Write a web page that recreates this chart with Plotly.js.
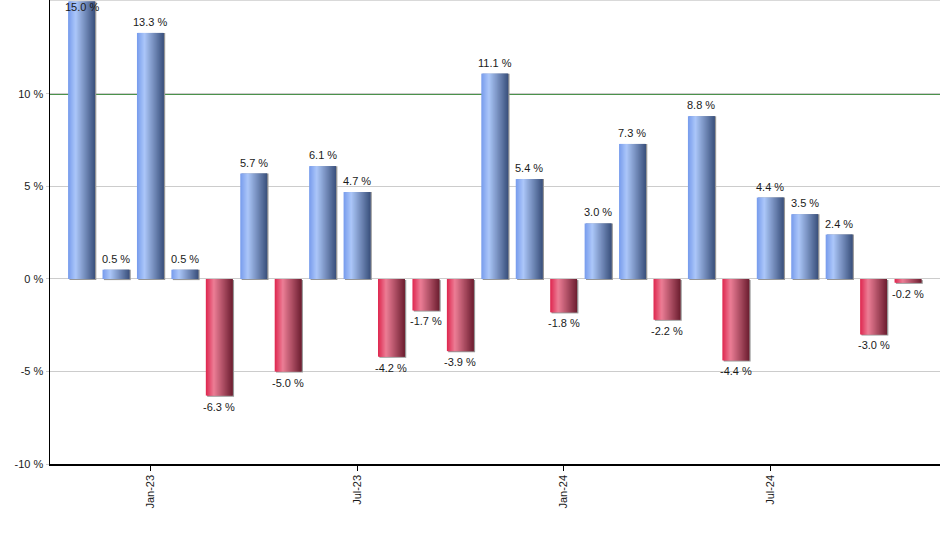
<!DOCTYPE html>
<html>
<head>
<meta charset="utf-8">
<script src="https://cdn.plot.ly/plotly-3.0.1.min.js"></script>
<style>
html,body{margin:0;padding:0;background:#fff;}
#chart{width:940px;height:550px;}
</style>
</head>
<body>
<div id="chart"></div>
<script>
// ---- data ----
const months = ["Nov-22","Dec-22","Jan-23","Feb-23","Mar-23","Apr-23","May-23","Jun-23","Jul-23","Aug-23","Sep-23","Oct-23",
                "Nov-23","Dec-23","Jan-24","Feb-24","Mar-24","Apr-24","May-24","Jun-24","Jul-24","Aug-24","Sep-24","Oct-24","Nov-24"];
const returns = [15.0, 0.5, 13.3, 0.5, -6.3, 5.7, -5.0, 6.1, 4.7, -4.2, -1.7, -3.9,
                 11.1, 5.4, -1.8, 3.0, 7.3, -2.2, 8.8, -4.4, 4.4, 3.5, 2.4, -3.0, -0.2];
const tickMonths = ["Jan-23","Jul-23","Jan-24","Jul-24"];
const yTicks = [-10, -5, 0, 5, 10];
const yTickText = ["-10 %", "-5 %", "0 %", "5 %", "10 %"];

// ---- styling helpers ----
const W = 0.78;        // bar width (category units)
const N = 26;          // gradient slices
const blueStops = [[0,[118,155,236]],[0.28,[172,199,249]],[1,[58,80,124]]];
const redStops  = [[0,[222,38,78]],[0.30,[236,126,150]],[1,[108,30,48]]];
function interp(stops,t){
  for(let i=0;i<stops.length-1;i++){
    const [t0,c0]=stops[i],[t1,c1]=stops[i+1];
    if(t>=t0 && t<=t1){
      const f=(t-t0)/(t1-t0);
      return 'rgb('+c0.map((v,j)=>Math.round(v+(c1[j]-v)*f)).join(',')+')';
    }
  }
  return 'rgb('+stops[stops.length-1][1].join(',')+')';
}

const FONT = '"Liberation Sans", Arial, sans-serif';
const traces = [];
// shadow
traces.push({
  type:'bar', x:months, y:returns.map(v=> v>=0 ? v+0.06 : v), base:returns.map(()=>-0.06),
  width:W, offset:-W/2+0.04,
  marker:{color:'rgb(150,150,150)', line:{width:0}}, hoverinfo:'skip', showlegend:false
});
for(let k=0;k<N;k++){
  const t=(k+0.5)/N;
  traces.push({
    type:'bar', x:months, y:returns, base:0,
    width: k<N-1 ? W/N+0.03 : W/N, offset:-W/2+k*W/N,
    marker:{color:returns.map(v=> v>=0 ? interp(blueStops,t) : interp(redStops,t)), line:{width:0}},
    hoverinfo:'skip', showlegend:false
  });
}

const annotations = months.map((m,i)=>{
  const v = returns[i];
  const inside = v >= 14.5;
  const up = v >= 0 && !inside;
  return {
    x:m, y:v, xref:'x', yref:'y', text:v.toFixed(1)+' %', showarrow:false,
    yanchor: up ? 'bottom' : 'top', yshift: up ? 3 : (inside ? 2 : -3),
    font:{family:FONT, size:11, color:'#1a1a1a'}
  };
});

const layout = {
  width:940, height:550,
  margin:{l:50, r:0, t:0, b:86},
  paper_bgcolor:'#fff', plot_bgcolor:'#fff',
  barmode:'overlay',
  font:{family:FONT, size:11, color:'#1a1a1a'},
  annotations: annotations,
  xaxis:{
    type:'category', range:[-0.915, 24.93],
    tickmode:'array', tickvals:tickMonths, ticktext:tickMonths,
    tickangle:-90, ticks:'outside', ticklen:5, tickcolor:'#000',
    showline:true, linecolor:'#000', linewidth:1.5,
    showgrid:false, zeroline:false,
    tickfont:{size:11, color:'#1a1a1a'}
  },
  yaxis:{
    range:[-10, 15.08],
    tickmode:'array', tickvals:yTicks, ticktext:yTickText,
    showline:true, linecolor:'#000', linewidth:1.5,
    showgrid:true, gridcolor:'#cccccc', gridwidth:1,
    zeroline:true, zerolinecolor:'#cccccc', zerolinewidth:1,
    ticks:'outside', ticklen:3, tickcolor:'#cccccc',
    tickfont:{size:11, color:'#1a1a1a'}
  },
  shapes:[
    {type:'line', xref:'paper', yref:'y', x0:0, x1:1, y0:10, y1:10, line:{color:'#0f6e0f', width:1.3}, layer:'below'},
    {type:'line', xref:'paper', yref:'paper', x0:0, x1:1, y0:1, y1:1, line:{color:'#cccccc', width:1.5}, layer:'below'}
  ]
};

Plotly.newPlot('chart', traces, layout, {staticPlot:true, displayModeBar:false});
</script>
</body>
</html>
